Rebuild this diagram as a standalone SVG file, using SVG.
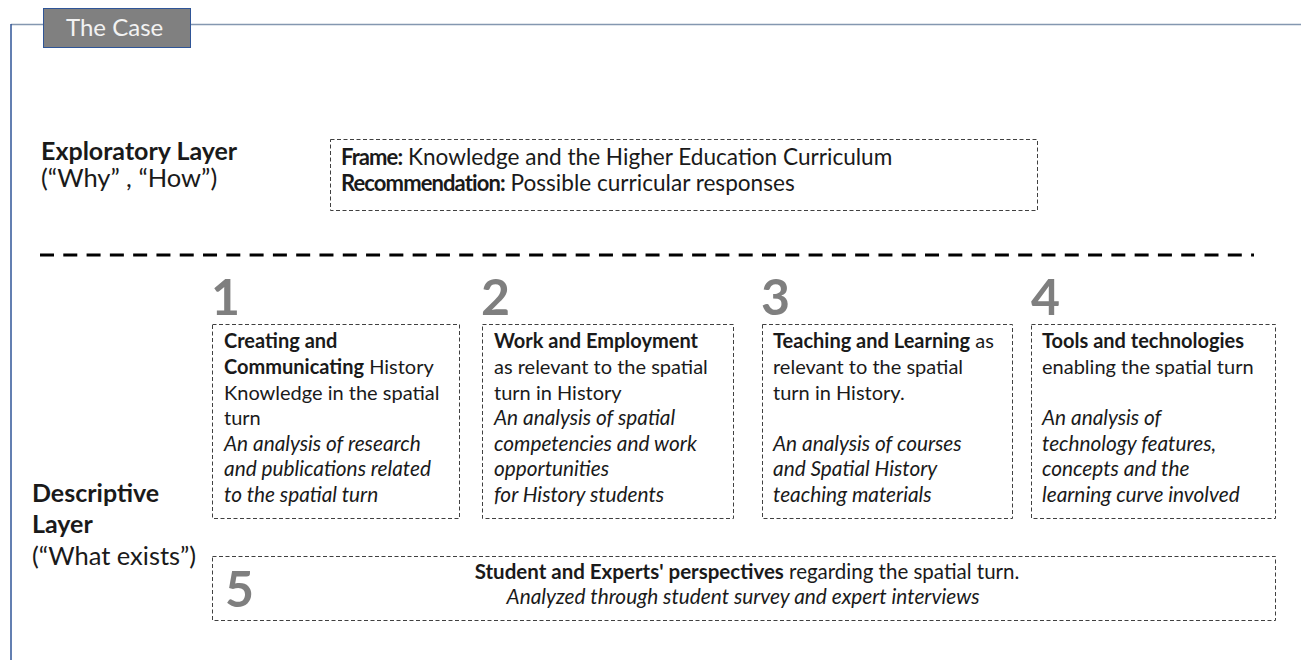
<svg xmlns="http://www.w3.org/2000/svg" width="1301" height="660" viewBox="0 0 1301 660">
<style>
text{font-family:Lato,"Open Sans","Liberation Sans",sans-serif;fill:#1a1a1a}
.b{font-weight:bold}
.i{font-style:italic;font-size:20.8px}
.t{font-size:20px}
.lb{font-size:25px;font-weight:bold}
.lr{font-size:25.5px}
.num{font-size:50px;font-weight:bold;fill:#7f7f7f}
.fr{font-size:22.6px}
.fb{font-weight:bold;font-size:22px;letter-spacing:-0.9px}
.box{fill:none;stroke:#404040;stroke-width:1;stroke-dasharray:4 2.5}
</style>
<rect width="1301" height="660" fill="#fff"/>
<g id="frame">
<line x1="11" y1="24.5" x2="1301" y2="24.5" stroke="#8497b0" stroke-width="1.5"/>
<line x1="11" y1="24" x2="11" y2="660" stroke="#2f5597" stroke-width="1.5"/>
</g>
<g id="tag">
<rect x="43.5" y="8.5" width="147" height="39" fill="#808080" stroke="#2f5597" stroke-width="1"/>
<text x="66" y="36" style="font-size:24px;fill:#f2f2f2">The Case</text>
</g>
<g id="exploratory-label">
<text x="41" y="160" class="lb">Exploratory Layer</text>
<text x="41" y="187" class="lr">(“Why” , “How”)</text>
</g>
<g id="frame-box">
<rect x="330.5" y="139.5" width="707" height="71" class="box"/>
<text x="341" y="165" class="fr"><tspan class="fb">Frame:</tspan> Knowledge and the Higher Education Curriculum</text>
<text x="341" y="191" class="fr"><tspan class="fb">Recommendation:</tspan> Possible curricular responses</text>
</g>
<g id="connectors">
<line x1="40" y1="255" x2="1254" y2="255" stroke="#000" stroke-width="3" stroke-dasharray="14 9.29"/>
</g>
<g id="descriptive-label">
<text x="32" y="502" class="lb">Descriptive</text>
<text x="32" y="533" class="lb">Layer</text>
<text x="32" y="565" class="lr">(“What exists”)</text>
</g>
<g id="node1">
<text x="211" y="315" class="num">1</text>
<rect x="212.5" y="324.5" width="247" height="194" class="box"/>
<text x="224" y="348" class="t b">Creating and</text>
<text x="224" y="374" class="t"><tspan class="b">Communicating</tspan> History</text>
<text x="224" y="400" class="t">Knowledge in the spatial</text>
<text x="224" y="425" class="t">turn</text>
<text x="224" y="451" class="i">An analysis of research</text>
<text x="224" y="476" class="i">and publications related</text>
<text x="224" y="502" class="i">to the spatial turn</text>
</g>
<g id="node2">
<text x="481" y="315" class="num">2</text>
<rect x="482.5" y="324.5" width="251" height="194" class="box"/>
<text x="494" y="348" class="t b">Work and Employment</text>
<text x="494" y="374" class="t">as relevant to the spatial</text>
<text x="494" y="400" class="t">turn in History</text>
<text x="494" y="425" class="i">An analysis of spatial</text>
<text x="494" y="451" class="i">competencies and work</text>
<text x="494" y="476" class="i">opportunities</text>
<text x="494" y="502" class="i">for History students</text>
</g>
<g id="node3">
<text x="761" y="315" class="num">3</text>
<rect x="762.5" y="324.5" width="250" height="194" class="box"/>
<text x="773" y="348" class="t"><tspan class="b">Teaching and Learning</tspan> as</text>
<text x="773" y="374" class="t">relevant to the spatial</text>
<text x="773" y="400" class="t">turn in History.</text>
<text x="773" y="451" class="i">An analysis of courses</text>
<text x="773" y="476" class="i">and Spatial History</text>
<text x="773" y="502" class="i">teaching materials</text>
</g>
<g id="node4">
<text x="1031" y="315" class="num">4</text>
<rect x="1031.5" y="324.5" width="244" height="194" class="box"/>
<text x="1042" y="348" class="t b">Tools and technologies</text>
<text x="1042" y="374" class="t">enabling the spatial turn</text>
<text x="1042" y="425" class="i">An analysis of</text>
<text x="1042" y="451" class="i">technology features,</text>
<text x="1042" y="476" class="i">concepts and the</text>
<text x="1042" y="502" class="i">learning curve involved</text>
</g>
<g id="node5">
<rect x="212.5" y="556.5" width="1063" height="64" class="box"/>
<text x="225" y="607" class="num">5</text>
<text x="747" y="579" text-anchor="middle" style="font-size:20.5px"><tspan class="b">Student and Experts' perspectives</tspan> regarding the spatial turn.</text>
<text x="743" y="604" class="i" text-anchor="middle">Analyzed through student survey and expert interviews</text>
</g>
</svg>
